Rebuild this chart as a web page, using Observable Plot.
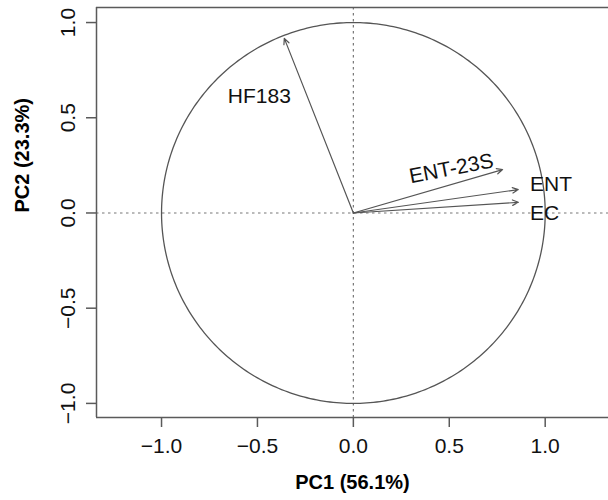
<!DOCTYPE html>
<html>
<head>
<meta charset="utf-8">
<script src="https://cdn.jsdelivr.net/npm/d3@7"></script>
<script src="https://cdn.jsdelivr.net/npm/@observablehq/plot@0.6"></script>
<style>
  html, body { margin: 0; padding: 0; background: #fff; }
  #chart svg { display: block; font-family: "Liberation Sans", Arial, sans-serif; }
</style>
</head>
<body>
<div id="chart"></div>
<script>
// Loadings (arrow tips)
const variables = ["HF183", "ENT-23S", "ENT", "EC"];
const pc1 = [-0.36, 0.778, 0.860, 0.860];
const pc2 = [0.917, 0.228, 0.123, 0.056];
// Label anchor positions (data units)
const labelX = [-0.49, 0.511, 0.921, 0.921];
const labelY = [0.611, 0.233, 0.149, -0.003];
const labelRotate = [0, -11, 0, 0];
const labelAnchor = ["middle", "middle", "start", "start"];
// Axis ticks and titles
const xTicks = [-1.0, -0.5, 0.0, 0.5, 1.0];
const yTicks = [-1.0, -0.5, 0.0, 0.5, 1.0];
const xTitle = "PC1 (56.1%)";
const yTitle = "PC2 (23.3%)";
const xDomain = [-1.339, 1.33];
const yDomain = [-1.074, 1.079];

const arrows = variables.map((v, i) => ({v, x: pc1[i], y: pc2[i]}));
const labels = variables.map((v, i) => ({v, x: labelX[i], y: labelY[i], r: labelRotate[i], a: labelAnchor[i]}));
// unit correlation circle
const circle = d3.range(0, 361).map(a => ({x: Math.cos(a * Math.PI / 180), y: Math.sin(a * Math.PI / 180)}));

const fmt = d => d.toFixed(1).replace("-", "\u2212");
const frameColor = "#5a5a5a";

const plot = Plot.plot({
  width: 608,
  height: 500,
  marginLeft: 96,
  marginRight: 0,
  marginTop: 7,
  marginBottom: 83,
  x: {domain: xDomain},
  y: {domain: yDomain},
  style: {fontFamily: "Liberation Sans, Arial, sans-serif", background: "#fff", color: "#000"},
  marks: [
    Plot.ruleX([0], {stroke: "#777", strokeDasharray: "2.5,3.5", strokeWidth: 1.2}),
    Plot.ruleY([0], {stroke: "#777", strokeDasharray: "2.5,3.5", strokeWidth: 1.2}),
    Plot.line(circle, {x: "x", y: "y", stroke: "#555", strokeWidth: 1.3, curve: "linear"}),
    Plot.arrow(arrows, {x1: () => 0, y1: () => 0, x2: "x", y2: "y", stroke: "#555", strokeWidth: 1.2, headLength: 8, headAngle: 50}),
    ...labels.map(l => Plot.text([l], {x: "x", y: "y", text: "v", rotate: l.r, textAnchor: l.a, fontSize: 21, fill: "#111"})),
    Plot.ruleY([yDomain[0], yDomain[1]], {stroke: frameColor, strokeWidth: 1.5}),
    Plot.ruleX([xDomain[0]], {stroke: frameColor, strokeWidth: 1.5}),
    Plot.axisX(xTicks, {tickSize: 10, tickPadding: 11, tickFormat: fmt, fontSize: 21, label: null, stroke: frameColor, strokeWidth: 1.5, fill: "#111"}),
    Plot.axisY(yTicks, {tickSize: 10, tickPadding: 12, tickRotate: -90, tickFormat: fmt, fontSize: 21, label: null, stroke: frameColor, strokeWidth: 1.5, fill: "#111"}),
    Plot.text([xTitle], {frameAnchor: "bottom", dy: 71, text: d => d, fontSize: 20, fontWeight: "bold", fill: "#000"}),
    Plot.text([yTitle], {frameAnchor: "left", dx: -74, rotate: -90, text: d => d, fontSize: 20, fontWeight: "bold", fill: "#000"})
  ]
});
document.getElementById("chart").appendChild(plot);
</script>
</body>
</html>
